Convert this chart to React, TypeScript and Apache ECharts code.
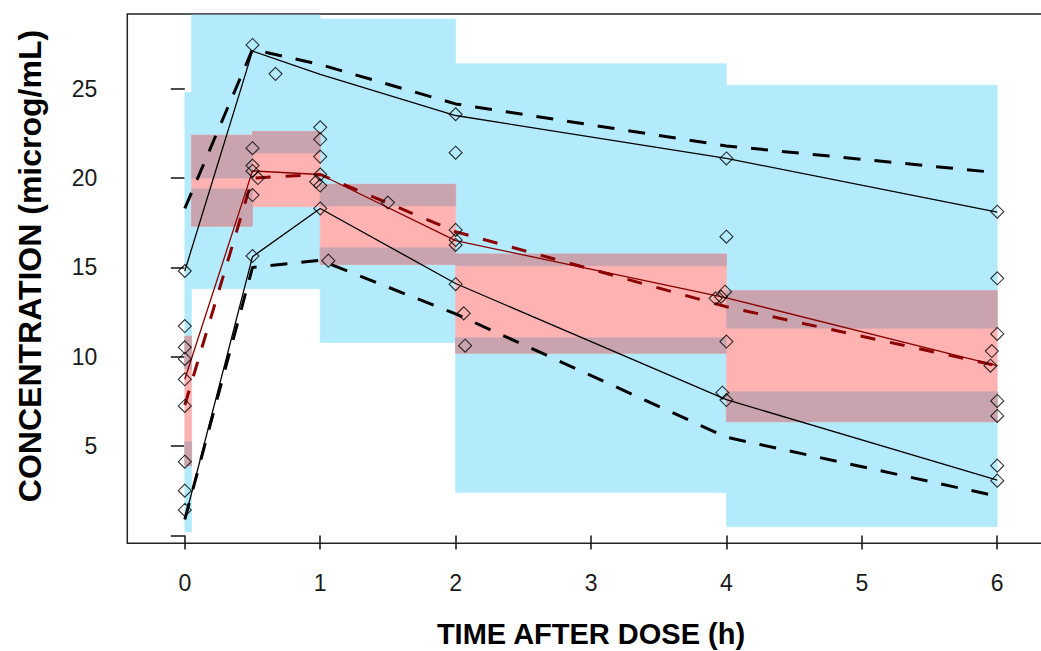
import React, { useEffect, useRef } from "react";
import * as echarts from "echarts";

// Bin edges (time, h)
const binEdges = [0, 0.05, 0.5, 1, 2, 4, 6];
// Prediction intervals (CI) per bin
const pi95Lo = [9.3, 20.0, 21.4, 18.44, 15.1, 11.6];
const pi95Hi = [24.8, 30, 30, 28.9, 26.4, 25.2];
const piMedLo = [3.9, 17.3, 18.4, 15.17, 10.2, 6.37];
const piMedHi = [11.15, 22.4, 22.6, 19.65, 15.75, 13.7];
const pi5Lo = [0.2, 13.8, 13.8, 10.8, 2.4, 0.49];
const pi5Hi = [5.25, 19.4, 18.4, 16.1, 11.07, 8.05];

// Percentile lines at bin times
const lineTimes = [0, 0.5, 1, 2, 4, 6];
const obs95 = [14.8, 27.1, 25.8, 23.5, 21.1, 18.1];
const obsMed = [8.74, 20.4, 20.2, 16.5, 13.3, 9.5];
const obs5 = [0.9, 15.6, 18.3, 14.1, 7.6, 3.1];
const pred95 = [18.3, 27.2, 26.35, 24.15, 21.8, 20.3];
const predMed = [7.3, 20.0, 20.2, 17.0, 12.8, 9.5];
const pred5 = [0.9, 15.0, 15.4, 12.4, 5.5, 2.2];

// Observations
const obsTime = [
  0, 0, 0, 0, 0, 0, 0, 0, 0,
  0.5, 0.5, 0.5, 0.5, 0.5, 0.5, 0.54, 0.67,
  1, 1, 1, 1, 0.97, 1, 1, 1.06, 1.5,
  2, 2, 2, 2, 2, 2, 2.06, 2.07,
  4, 4, 3.99, 3.96, 3.92, 4, 3.97, 4,
  6, 6, 6, 5.96, 5.95, 6, 6, 6, 6,
];
const obsConc = [
  14.8, 11.72, 10.53, 9.88, 8.74, 7.25, 4.13, 2.51, 1.43,
  27.45, 21.67, 20.7, 20.4, 19.05, 15.64, 20.0, 25.83,
  22.84, 22.17, 21.2, 20.2, 19.8, 19.58, 18.3, 15.38, 18.63,
  23.57, 21.42, 17.1, 16.54, 16.26, 14.06, 12.43, 10.62,
  21.1, 16.72, 13.64, 13.36, 13.27, 10.85, 7.99, 7.58,
  18.12, 14.39, 11.28, 10.32, 9.5, 7.53, 6.69, 3.91, 3.07,
];

const xTicks = [0, 1, 2, 3, 4, 5, 6];
const yTicks = [0, 5, 10, 15, 20, 25];
const yLabels = [5, 10, 15, 20, 25];

const FONT = "'Liberation Sans', Arial, sans-serif";
const fillColors = ["#B3EBFD", "#FFB2B2", "#C9A4AE"];

function buildRects() {
  const rects: number[][] = [];
  for (let i = 0; i < binEdges.length - 1; i++) {
    rects.push([binEdges[i], binEdges[i + 1], pi95Lo[i], pi95Hi[i], 0]);
    rects.push([binEdges[i], binEdges[i + 1], pi5Lo[i], pi5Hi[i], 0]);
  }
  for (let i = 0; i < binEdges.length - 1; i++) {
    rects.push([binEdges[i], binEdges[i + 1], piMedLo[i], piMedHi[i], 1]);
  }
  for (let i = 0; i < binEdges.length - 1; i++) {
    const bands = [
      [pi95Lo[i], pi95Hi[i]],
      [pi5Lo[i], pi5Hi[i]],
    ];
    for (const [lo, hi] of bands) {
      const a = Math.max(lo, piMedLo[i]);
      const b = Math.min(hi, piMedHi[i]);
      if (b > a) rects.push([binEdges[i], binEdges[i + 1], a, b, 2]);
    }
  }
  return rects;
}

const pairs = (xs: number[], ys: number[]) => xs.map((x, i) => [x, ys[i]]);

export default function App() {
  const ref = useRef<HTMLDivElement>(null);
  useEffect(() => {
    if (!ref.current) return;
    const chart = echarts.init(ref.current, undefined, { renderer: "svg" });
    const solid = (name: string, ys: number[], color: string) => ({
      type: "line",
      name,
      data: pairs(lineTimes, ys),
      symbol: "none",
      z: 3,
      lineStyle: { color, width: 1.3, type: "solid" },
    });
    const dashed = (name: string, ys: number[], color: string, dash: number[]) => ({
      type: "line",
      name,
      data: pairs(lineTimes, ys),
      symbol: "none",
      z: 3,
      lineStyle: { color, width: 3, type: dash, cap: "butt" },
    });
    chart.setOption({
      animation: false,
      grid: {
        left: 127.3,
        right: -10.4,
        top: 14,
        bottom: 107.7,
        show: true,
        borderColor: "#222",
        borderWidth: 1.5,
        backgroundColor: "transparent",
        containLabel: false,
        outerBoundsMode: "none",
      },
      xAxis: {
        type: "value",
        min: -0.4247,
        max: 6.4,
        splitLine: { show: false },
        axisLine: { show: false },
        axisTick: {
          show: true,
          length: 14,
          customValues: xTicks,
          lineStyle: { color: "#111", width: 1.5 },
        },
        axisLabel: {
          customValues: xTicks,
          margin: 28,
          fontSize: 23,
          fontFamily: FONT,
          color: "#1a1a1a",
        },
      },
      yAxis: {
        type: "value",
        min: -0.436,
        max: 29.18,
        splitLine: { show: false },
        axisLine: { show: false },
        axisTick: {
          show: true,
          length: 14,
          customValues: yTicks,
          lineStyle: { color: "#111", width: 1.5 },
        },
        axisLabel: {
          customValues: yLabels,
          margin: 30,
          fontSize: 23,
          fontFamily: FONT,
          color: "#1a1a1a",
        },
      },
      graphic: [
        {
          type: "text",
          x: 591,
          y: 634,
          style: {
            text: "TIME AFTER DOSE (h)",
            font: `bold 29px ${FONT}`,
            fill: "#000",
            textAlign: "center",
            textVerticalAlign: "middle",
            align: "center",
            verticalAlign: "middle",
          },
        },
        {
          type: "text",
          x: 30,
          y: 266,
          rotation: Math.PI / 2,
          style: {
            text: "CONCENTRATION (microg/mL)",
            font: `bold 32px ${FONT}`,
            fill: "#000",
            textAlign: "center",
            textVerticalAlign: "middle",
            align: "center",
            verticalAlign: "middle",
          },
        },
      ],
      series: [
        {
          type: "custom",
          name: "intervals",
          z: 1,
          data: buildRects(),
          encode: { x: [0, 1], y: [2, 3] },
          renderItem: (params: any, api: any) => {
            const x0 = api.value(0);
            const x1 = api.value(1);
            const y0 = api.value(2);
            const y1 = api.value(3);
            const c = api.value(4);
            const p0 = api.coord([x0, y1]);
            const p1 = api.coord([x1, y0]);
            const cs = params.coordSys;
            const shape = echarts.graphic.clipRectByRect(
              { x: p0[0], y: p0[1], width: p1[0] - p0[0], height: p1[1] - p0[1] },
              { x: cs.x, y: cs.y + 1, width: cs.width, height: cs.height - 2 }
            );
            if (!shape) return null;
            return {
              type: "rect",
              shape,
              style: { fill: fillColors[c], stroke: fillColors[c], lineWidth: 0.6 },
            };
          },
        },
        dashed("pred95", pred95, "#000", [17, 14]),
        dashed("pred5", pred5, "#000", [17, 14]),
        dashed("predMed", predMed, "#8B0000", [15, 15]),
        solid("obs95", obs95, "#000"),
        solid("obs5", obs5, "#000"),
        solid("obsMed", obsMed, "#8B0000"),
        {
          type: "scatter",
          name: "observed",
          z: 4,
          data: pairs(obsTime, obsConc),
          symbol: "diamond",
          symbolSize: 13,
          itemStyle: { color: "rgba(0,0,0,0)", borderColor: "#000", borderWidth: 1.1 },
        },
      ],
    });
    return () => chart.dispose();
  }, []);
  return (
    <div
      ref={ref}
      style={{ position: "absolute", left: 0, top: 0, width: 1041, height: 651 }}
    />
  );
}
